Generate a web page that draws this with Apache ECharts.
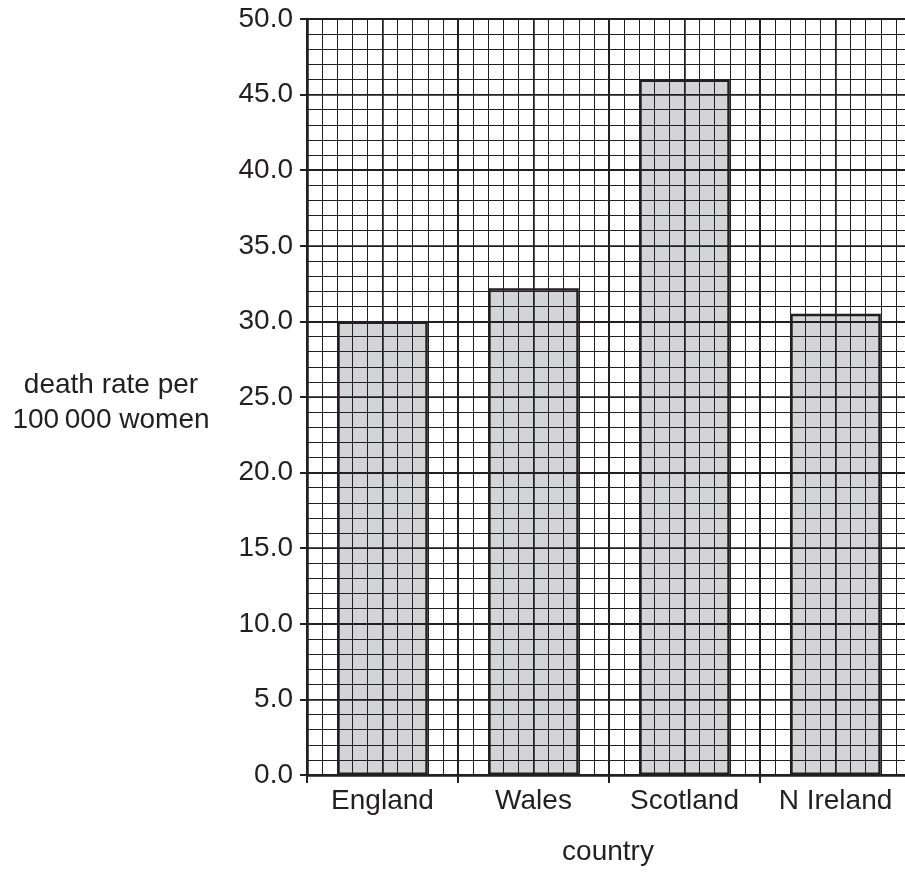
<!DOCTYPE html>
<html>
<head>
<meta charset="utf-8">
<script src="https://cdn.jsdelivr.net/npm/echarts@6/dist/echarts.min.js"></script>
<style>
html,body{margin:0;padding:0;background:#fff;}
#chart{width:905px;height:875px;}
</style>
</head>
<body>
<div id="chart"></div>
<script>
const categories = ['England', 'Wales', 'Scotland', 'N Ireland'];
const deathRates = [30.0, 32.2, 46.0, 30.5];
const yMin = 0, yMax = 50, yStep = 5;
const yAxisTitle = ['death rate per', '100\u2009000 women'];
const xAxisTitle = 'country';

const ink = '#231f20';
const font = 'Liberation Sans, Arial, Helvetica, sans-serif';
const chart = echarts.init(document.getElementById('chart'), null, {renderer: 'canvas'});

function gridAxis(interval, width, max, pos) {
  return {
    type: 'value', gridIndex: 1, min: 0, max: max, interval: interval, zlevel: 1, z: 20, position: pos,
    axisLine: {show: false}, axisTick: {show: false}, axisLabel: {show: false},
    splitLine: {show: true, lineStyle: {color: ink, width: width}}
  };
}

const gridBox = {left: 307, top: 19, width: 604, height: 756, containLabel: false, outerBoundsMode: 'none'};

chart.setOption({
  animation: false,
  backgroundColor: '#fff',
  grid: [Object.assign({}, gridBox), Object.assign({}, gridBox)],
  xAxis: [
    {
      type: 'category', data: categories, zlevel: 1, z: 30, gridIndex: 0,
      axisLine: {show: true, lineStyle: {color: ink, width: 2.5}},
      axisTick: {show: true, length: 8, lineStyle: {color: ink, width: 2}},
      axisLabel: {color: ink, fontSize: 28, fontFamily: font, margin: 12},
      splitLine: {show: false}
    },
    gridAxis(1, 1, 40, 'top'),
    gridAxis(5, 1.5, 40, 'top'),
    gridAxis(10, 2, 40, 'top')
  ],
  yAxis: [
    {
      type: 'value', min: yMin, max: yMax, interval: yStep, zlevel: 1, z: 30, gridIndex: 0,
      axisLine: {show: true, lineStyle: {color: ink, width: 2.5}},
      axisTick: {show: true, length: 7, lineStyle: {color: ink, width: 2}},
      axisLabel: {color: ink, fontSize: 28, fontFamily: font, margin: 14,
        formatter: v => v.toFixed(1)},
      splitLine: {show: false}
    },
    gridAxis(1, 1, yMax, 'right'),
    gridAxis(5, 1.5, yMax, 'right'),
    gridAxis(10, 2, yMax, 'right')
  ],
  series: [{
    type: 'bar', data: deathRates, barWidth: '60%', z: 1,
    xAxisIndex: 0, yAxisIndex: 0,
    itemStyle: {color: '#d3d4d6', borderColor: ink, borderWidth: 2.5}
  }],
  graphic: [
    {type: 'text', x: 111, y: 385, style: {text: yAxisTitle[0], font: '28px ' + font, fill: ink, textAlign: 'center', textVerticalAlign: 'middle'}},
    {type: 'text', x: 111, y: 420, style: {text: yAxisTitle[1], font: '28px ' + font, fill: ink, textAlign: 'center', textVerticalAlign: 'middle'}},
    {type: 'text', x: 608, y: 852, style: {text: xAxisTitle, font: '28px ' + font, fill: ink, textAlign: 'center', textVerticalAlign: 'middle'}}
  ]
});
</script>
</body>
</html>
